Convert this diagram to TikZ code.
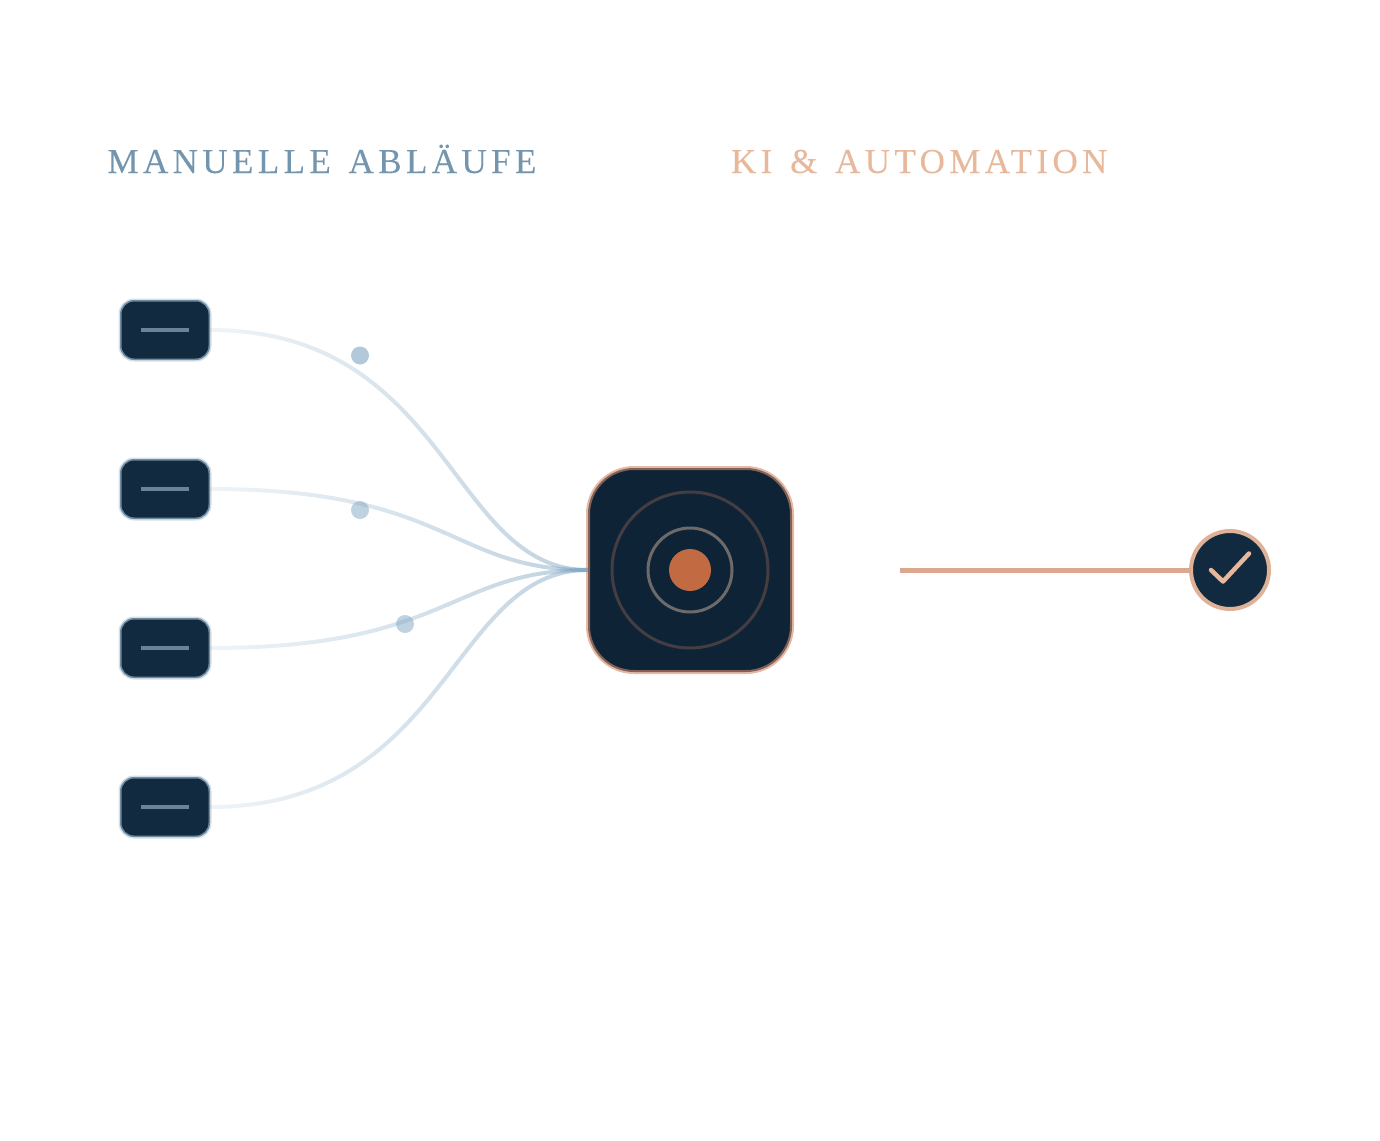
\documentclass[tikz,border=0pt]{standalone}
\usepackage{fontspec}
\setmainfont{Liberation Serif}
\newfontfamily\headfont[LetterSpace=12.6,WordSpace=1.35,FakeBold=0.12]{Liberation Serif}
\usetikzlibrary{fadings}
\definecolor{srcfill}{HTML}{112A3F}
\definecolor{hubfill}{HTML}{0E2436}
\definecolor{headblue}{HTML}{7395AE}
\definecolor{headpeach}{HTML}{E8B89C}
\definecolor{flowblue}{HTML}{7FA5C2}
\definecolor{srcedge}{HTML}{B4CBDD}
\definecolor{dashcol}{HTML}{6A8397}
\definecolor{ringa}{HTML}{453D42}
\definecolor{ringb}{HTML}{6E6A69}
\definecolor{coredot}{HTML}{C26B43}
\definecolor{hubedge}{HTML}{D48A6C}
\definecolor{linkcol}{HTML}{DBA78E}
\tikzfading[name=flowfade,left color=transparent!88,right color=transparent!50]
\tikzset{
  head/.style={font=\headfont\fontsize{35}{35}\selectfont,anchor=base west,inner sep=0,outer sep=0},
  srcbox/.style={draw=srcedge,draw opacity=.6,line width=3,fill=srcfill,rounded corners=14,minimum width=90,minimum height=60,inner sep=0,outer sep=0},
  hubbox/.style={draw=hubedge,draw opacity=.6,line width=4,fill=hubfill,rounded corners=46,minimum width=204,minimum height=204,inner sep=0,outer sep=0},
  dashmark/.style={fill=dashcol,minimum width=48,minimum height=4,inner sep=0,outer sep=0},
  ring/.style={circle,draw,line width=3,inner sep=0,outer sep=0},
  flow/.style={line width=4,draw=flowblue,path fading=flowfade},
  flowdot/.style={circle,fill=flowblue,inner sep=0,outer sep=0,minimum size=18},
  donecirc/.style={circle,draw=headpeach!96!black,line width=4,fill=srcfill,minimum size=78,inner sep=0,outer sep=0},
  tick/.style={draw=headpeach,line width=4.5,line cap=round,line join=round},
  link/.style={draw=linkcol,line width=5}
}
\begin{document}
\begin{tikzpicture}[x=1pt,y=-1pt]
\useasboundingbox (0,0) rectangle (1380,1140);
\node[head,text=headblue] (h1) at (107.5,173) {MANUELLE ABLÄUFE};
\node[head,text=headpeach] (h2) at (731,173) {KI \& AUTOMATION};

\node[hubbox] (hub) at (690,570) {};
\foreach \n/\y in {1/330,2/489,3/648,4/807}{
  \node[srcbox] (s\n) at (165,\y) {};
  \node[dashmark] (d\n) at (165,\y) {};
}
\draw[flow] (s1.east) .. controls +(240,0) and +(-138,0) .. (hub.west);
\draw[flow] (s2.east) .. controls +(240,0) and +(-138,0) .. (hub.west);
\draw[flow] (s3.east) .. controls +(240,0) and +(-138,0) .. (hub.west);
\draw[flow] (s4.east) .. controls +(240,0) and +(-138,0) .. (hub.west);

\node[flowdot,fill opacity=.6] (p1) at (360,355.5) {};
\node[flowdot,fill opacity=.5] (p2) at (360,510) {};
\node[flowdot,fill opacity=.5] (p3) at (405,624) {};

\node[ring,draw=ringa,minimum size=156] (r1) at (690,570) {};
\node[ring,draw=ringb,minimum size=84] (r2) at (690,570) {};
\node[circle,fill=coredot,minimum size=42,inner sep=0,outer sep=0] (core) at (690,570) {};

\node[donecirc] (done) at (1230,570) {};
\coordinate (linkstart) at (900,570);
\draw[link] (linkstart) -- (done.west);
\draw[tick] (1211,570) -- (1223,581.5) -- (1249,553.5);
\end{tikzpicture}
\end{document}
